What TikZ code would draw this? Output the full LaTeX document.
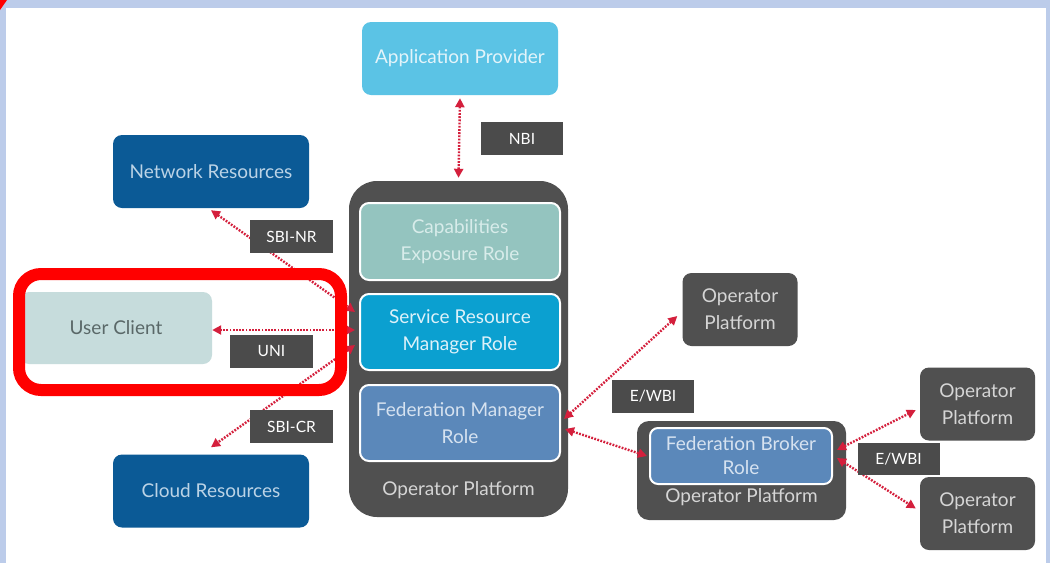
\documentclass[tikz,border=0pt]{standalone}
\usepackage{fontspec}
\setmainfont{Lato}
\usetikzlibrary{arrows.meta,calc}
\definecolor{frameblue}{HTML}{BCCCEA}
\definecolor{apblue}{HTML}{5BC3E5}
\definecolor{aptext}{HTML}{E3F4FA}
\definecolor{resblue}{HTML}{0B5A96}
\definecolor{restext}{HTML}{BBD3E6}
\definecolor{opgray}{HTML}{505050}
\definecolor{optext}{HTML}{D5D5D5}
\definecolor{cerfill}{HTML}{94C4BF}
\definecolor{certext}{HTML}{D8ECEA}
\definecolor{srmfill}{HTML}{0BA0D0}
\definecolor{srmtext}{HTML}{DDF1F9}
\definecolor{fmrfill}{HTML}{5B88BA}
\definecolor{fmrtext}{HTML}{D6E2F0}
\definecolor{ucfill}{HTML}{C6DCDC}
\definecolor{uctext}{HTML}{5A6868}
\definecolor{lblgray}{HTML}{4B4B4B}
\definecolor{linkred}{HTML}{D41F3C}
\definecolor{hlred}{HTML}{FF0000}
\begin{document}
\begin{tikzpicture}[x=1pt,y=-1pt,
  box/.style={rounded corners=9pt, align=center, inner sep=0pt, font=\fontsize{19}{27}\selectfont},
  role/.style={box, draw=white, line width=2pt, minimum width=200pt, minimum height=76pt},
  resbox/.style={box, fill=resblue, text=restext, minimum width=196pt, minimum height=73pt},
  opsmall/.style={box, fill=opgray, text=optext, minimum width=115pt, minimum height=73pt},
  optxt/.style={text=optext, inner sep=0pt, font=\fontsize{19}{27}\selectfont},
  lbl/.style={fill=lblgray, text=white, inner sep=0pt, minimum width=83pt, minimum height=33pt, font=\fontsize{15.5}{18}\selectfont},
  link/.style={draw=linkred, line width=2.4pt, dash pattern=on 1.8pt off 1.4pt,
    {Triangle[length=9pt,width=9pt]}-{Triangle[length=9pt,width=9pt]}},
]
\useasboundingbox (0,0) rectangle (1050,563);
% frame
\fill[white] (0,0) rectangle (1050,563);
\fill[frameblue] (0,0) rectangle (1050,8);
\fill[frameblue] (0,0) rectangle (6,563);
\fill[frameblue] (1046,0) rectangle (1050,563);
\fill[hlred] (0,0) -- (7,0) -- (0,10) -- cycle;

% nodes
\node[box, fill=apblue, text=aptext, minimum width=196pt, minimum height=73pt] (ap) at (460,58.5) {Application Provider};
\node[resbox] (nr) at (211,171.5) {Network Resources};
\node[resbox] (cr) at (211,491) {Cloud Resources};
\node[box, fill=ucfill, text=uctext, minimum width=192pt, minimum height=72pt] (uc) at (116,328) {User Client};

\node[fill=opgray, rounded corners=28pt, minimum width=219pt, minimum height=336pt, inner sep=0pt] (op) at (458.5,349) {};
\node[optxt] (opt) at (458.5,490) {Operator Platform};
\node[role, fill=cerfill, text=certext, minimum height=77pt] (cer) at (460,241.5) {Capabilities\\Exposure Role};
\node[role, fill=srmfill, text=srmtext] (srm) at (460,332) {Service Resource\\Manager Role};
\node[role, fill=fmrfill, text=fmrtext] (fmr) at (460,423) {Federation Manager\\Role};

\node[opsmall] (op1) at (740,309.5) {Operator\\Platform};
\node[fill=opgray, rounded corners=12pt, minimum width=209pt, minimum height=99pt, inner sep=0pt] (op2) at (741.5,470.5) {};
\node[optxt] (op2t) at (741.5,497) {Operator Platform};
\node[box, draw=white, line width=2pt, fill=fmrfill, text=fmrtext, rounded corners=8pt, minimum width=182pt, minimum height=56pt, font=\fontsize{19}{24}\selectfont] (fbr) at (741,456) {Federation Broker\\Role};
\node[opsmall] (op3) at (977.5,404) {Operator\\Platform};
\node[opsmall] (op4) at (977.5,513.5) {Operator\\Platform};

% links
\draw[link] ([yshift=-3pt]ap.south) -- ([yshift=3pt]op.north);
\draw[link] ([yshift=-2pt]nr.south) -- ([shift={(-4pt,20pt)}]srm.west);
\draw[link] ([shift={(-4pt,2pt)}]srm.west) -- ([shift={(0pt,-2pt)}]uc.east);
\draw[link] ([shift={(-4pt,-13pt)}]srm.west) -- ([yshift=7pt]cr.north);
\draw[link] ([shift={(3pt,4pt)}]fmr.east) -- ([shift={(-5pt,-6.5pt)}]op1.west);
\draw[link] ([shift={(4pt,-6pt)}]fmr.east) -- ([xshift=-2pt]fbr.west);
\draw[link] ([shift={(4pt,6pt)}]fbr.east) -- ([shift={(-4pt,-6pt)}]op3.west);
\draw[link] ([shift={(4pt,-2pt)}]fbr.east) -- ([shift={(-4pt,5pt)}]op4.west);

% labels
\node[lbl, minimum width=82pt] (nbi) at (522,138.5) {NBI};
\node[lbl] (sbinr) at (291.5,236.5) {SBI-NR};
\node[lbl] (uni) at (271.5,351.5) {UNI};
\node[lbl] (sbicr) at (291.5,426.5) {SBI-CR};
\node[lbl, minimum width=82pt] (ewbi1) at (653,396.5) {E/WBI};
\node[lbl, minimum width=82pt, minimum height=32pt] (ewbi2) at (898.5,459) {E/WBI};

% highlight
\node[draw=hlred, line width=12pt, rounded corners=22pt, minimum width=322pt, minimum height=116pt, inner sep=0pt] (hl) at (180,332) {};
\end{tikzpicture}
\end{document}
